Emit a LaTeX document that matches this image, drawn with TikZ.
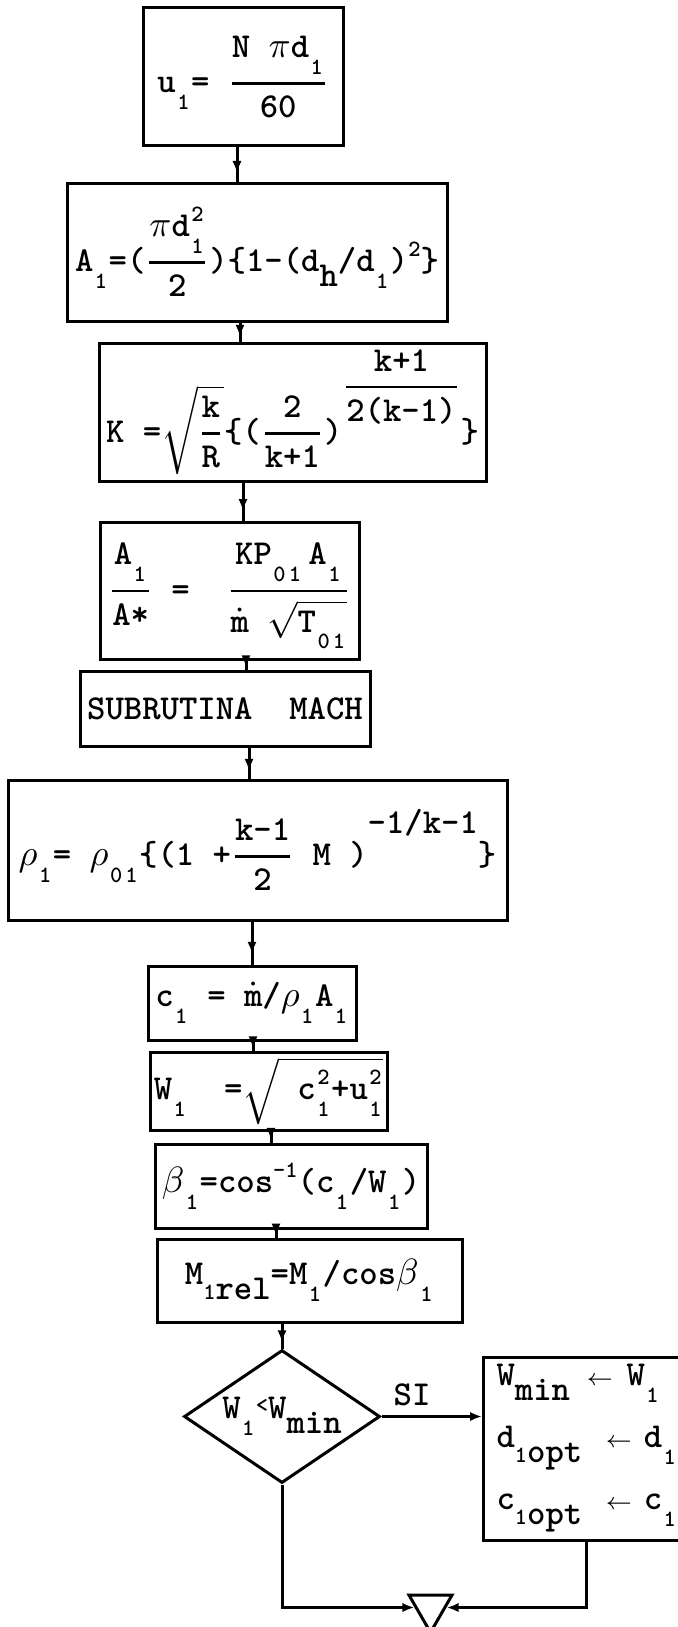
\documentclass[tikz,border=0pt]{standalone}
\usepackage{amsmath}
\usetikzlibrary{shapes.geometric,arrows.meta,decorations.markings}
\newcommand\subx[1]{\makebox[4.6pt]{\raisebox{-5pt}{\scriptsize #1}}}
\newcommand\ssubx[1]{\makebox[4.6pt]{\raisebox{-5pt}[0pt][0pt]{\scriptsize #1}}}
\newcommand\lowx[1]{\raisebox{-4.5pt}{#1}}
\newcommand\supx[1]{\raisebox{4.5pt}{\scriptsize #1}}
\newcommand\udx[2]{\makebox[4.6pt]{\rlap{\raisebox{4.5pt}{\scriptsize #1}}\raisebox{-5pt}{\scriptsize #2}}}
\newcommand\frx[2]{\ensuremath{\genfrac{}{}{0.8pt}{0}{\mbox{#1}}{\mbox{#2}}}}
\newcommand\mdot{\ensuremath{\dot{\mbox{m}}}}
\newcommand\larr{{\scriptsize$\leftarrow$}}
\tikzset{
  txt/.style={font=\fontsize{10.5}{12.6}\selectfont\ttfamily\bfseries},
  box/.style={txt, draw, line width=0.9pt, inner sep=1pt},
  dia/.style={txt, draw, diamond, line width=0.9pt, inner sep=0pt, aspect=1.47,
    minimum width=58.8pt, minimum height=39.9pt},
  conn/.style={line width=0.9pt, postaction={decorate},
    decoration={markings, mark=at position 0.75 with {\arrow{Latex[length=3.6pt,width=2.8pt]}}}},
  tip/.style={line width=0.9pt, -{Latex[length=3.6pt,width=2.8pt]}},
}
\begin{document}
\begin{tikzpicture}[x=0.3pt,y=-0.3pt]
\useasboundingbox (0,0) rectangle (678,1627);

\node[box, minimum width=60pt, minimum height=41.4pt] (b1) at (243,77)
  {u\subx{1}= \frx{N\ $\pi$d\subx{1}}{60}};
\node[box, minimum width=114pt, minimum height=41.4pt] (b2) at (257,252)
  {A\subx{1}=(\frx{$\pi$d\udx{2}{1}}{2})\{1-(d\lowx{h}/d\subx{1})\supx{2}\}};
\node[box, minimum width=116.1pt, minimum height=41.4pt] (b3) at (292.5,412)
  {K =\ensuremath{\sqrt{\frx{k}{R}}}\{(\frx{2}{k+1})\raisebox{14pt}{\frx{k+1}{2(k-1)}}\}};
\node[box, minimum width=77.7pt, minimum height=41.1pt] (b4) at (229.5,590.5)
  {\frx{A\subx{1}}{A*}\ =\ \ \frx{KP\subx{0}\subx{1}\,A\subx{1}}{\mdot\ \ensuremath{\sqrt{\mbox{T\ssubx{0}\ssubx{1}}}}}};
\node[box, minimum width=87pt, minimum height=22.5pt] (b5) at (225,708.5)
  {SUBRUTINA\ \ MACH};
\node[box, minimum width=149.7pt, minimum height=42pt] (b6) at (257.5,850)
  {$\rho$\subx{1}= $\rho$\subx{0}\subx{1}\{(1 +\frx{k-1}{2} M )\raisebox{9.6pt}{-1/k-1}\}};
\node[box, minimum width=62.4pt, minimum height=22.2pt] (b7) at (252,1003)
  {c\subx{1} = \mdot/$\rho$\subx{1}A\subx{1}};
\node[box, minimum width=71.1pt, minimum height=23.4pt] (b8) at (268.5,1091)
  {W\subx{1}\ \ =\ensuremath{\sqrt{\mbox{\ c\udx{2}{1}+u\udx{2}{1}}}}};
\node[box, minimum width=81.6pt, minimum height=25.2pt] (b9) at (291,1186)
  {$\beta$\subx{1}=cos\supx{-1}(c\subx{1}/W\subx{1})};
\node[box, minimum width=91.5pt, minimum height=24.9pt] (b10) at (309.5,1280.5)
  {M\lowx{{\scriptsize 1}rel}=M\subx{1}/cos$\beta$\subx{1}};
\node[dia] (d) at (282,1416.5)
  {W\subx{1}\raisebox{2pt}{\scriptsize<}W\lowx{min}};
\node[box, anchor=west, minimum height=54.9pt, text width=70pt, inner xsep=3.9pt,
  inner ysep=0pt, align=left, font=\fontsize{10.5}{18.6}\selectfont\ttfamily\bfseries] (rb) at (482,1448.5)
  {\mbox{W\lowx{min}\hspace{5pt}\larr\hspace{4pt}W\subx{1}}\\
   \mbox{d\lowx{{\scriptsize 1}opt}\hspace{7pt}\larr\hspace{3.5pt}d\subx{1}}\\
   \mbox{c\lowx{{\scriptsize 1}opt}\hspace{7pt}\larr\hspace{3.5pt}c\subx{1}}};
\node[txt, inner sep=0pt] (si) at (412,1395) {SI};
\node[draw, line width=0.9pt, regular polygon, regular polygon sides=3,
  shape border rotate=180, minimum size=14.9pt, inner sep=0pt] (tri) at (430.5,1607.5) {};

\coordinate (x12) at (237,0);
\coordinate (x23) at (240,0);
\coordinate (x34) at (243,0);
\coordinate (x45) at (246,0);
\coordinate (x56) at (249,0);
\coordinate (x67) at (252,0);
\coordinate (x78) at (253,0);
\coordinate (x89) at (271,0);
\coordinate (x910) at (276,0);
\coordinate (xr) at (586,0);

\draw[conn] (b1.south -| x12) -- (b2.north -| x12);
\draw[conn] (b2.south -| x23) -- (b3.north -| x23);
\draw[conn] (b3.south -| x34) -- (b4.north -| x34);
\draw[conn] (b4.south -| x45) -- (b5.north -| x45);
\draw[conn] (b5.south -| x56) -- (b6.north -| x56);
\draw[conn] (b6.south -| x67) -- (b7.north -| x67);
\draw[conn] (b7.south -| x78) -- (b8.north -| x78);
\draw[conn] (b8.south -| x89) -- (b9.north -| x89);
\draw[conn] (b9.south -| x910) -- (b10.north -| x910);
\draw[conn] (b10.south -| d.north) -- (d.north);
\draw[tip] (d.east) -- (d.east -| rb.west);
\draw[tip] (d.south) |- (tri);
\draw[tip] (rb.south -| xr) |- (tri);
\end{tikzpicture}
\end{document}
